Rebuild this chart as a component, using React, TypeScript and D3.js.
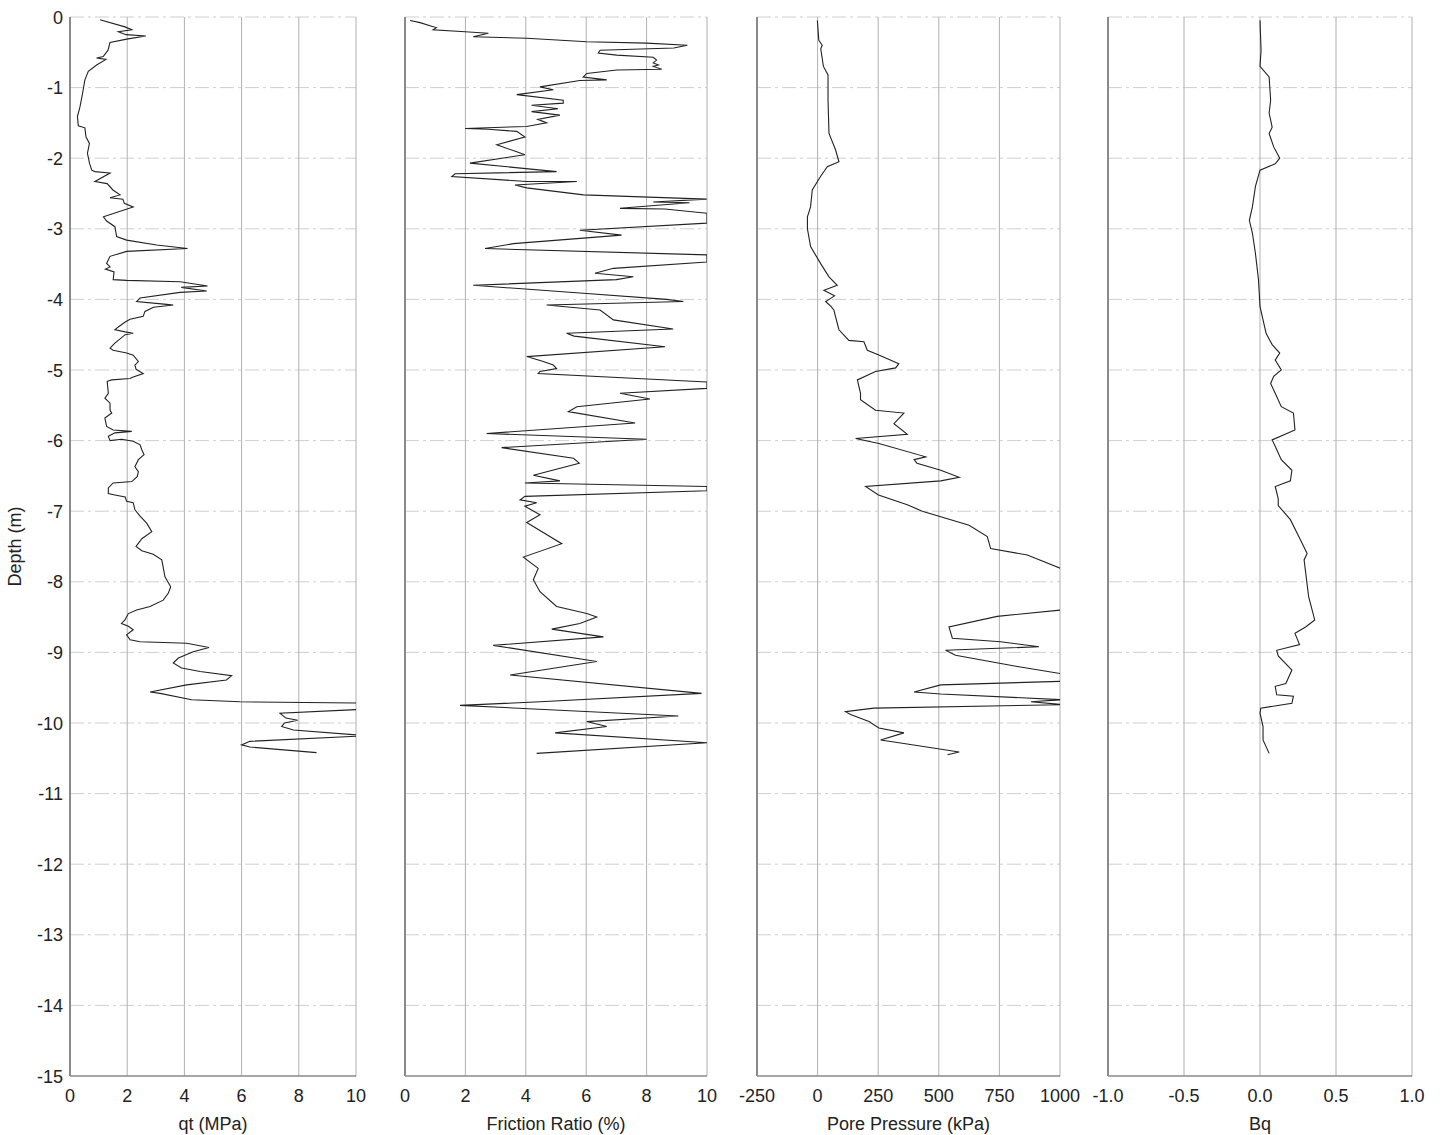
import React from "react";
import * as d3 from "d3";

// [depth (m), qt (MPa)]
const qtData: [number, number][] = [
  [-0.04, 1.05], [-0.14, 1.92], [-0.18, 2.16], [-0.21, 1.69], [-0.25, 1.96], [-0.27, 2.65], [-0.31, 2.03],
  [-0.36, 1.4], [-0.47, 1.33], [-0.56, 1.16], [-0.58, 0.93], [-0.6, 1.26], [-0.68, 0.93], [-0.77, 0.64],
  [-0.89, 0.52], [-1.08, 0.44], [-1.27, 0.35], [-1.41, 0.26], [-1.54, 0.29], [-1.57, 0.52], [-1.7, 0.56],
  [-1.79, 0.68], [-1.93, 0.61], [-2.07, 0.68], [-2.17, 0.76], [-2.19, 0.87], [-2.21, 1.4], [-2.33, 0.87],
  [-2.36, 1.3], [-2.45, 1.5], [-2.52, 1.75], [-2.56, 1.4], [-2.58, 1.85], [-2.64, 1.9], [-2.69, 2.21],
  [-2.83, 1.17], [-2.89, 1.28], [-2.97, 1.57], [-3.11, 1.63], [-3.16, 1.98], [-3.23, 3.03], [-3.28, 4.11],
  [-3.32, 1.98], [-3.39, 1.4], [-3.49, 1.28], [-3.54, 1.4], [-3.57, 1.24], [-3.61, 1.54], [-3.72, 1.51],
  [-3.73, 1.98], [-3.75, 3.85], [-3.81, 4.81], [-3.83, 3.89], [-3.88, 4.78], [-3.9, 3.85], [-3.98, 2.45],
  [-4.03, 2.33], [-4.07, 3.38], [-4.08, 3.61], [-4.11, 2.92], [-4.17, 2.62], [-4.24, 2.56], [-4.28, 2.1],
  [-4.32, 1.93], [-4.39, 1.69], [-4.43, 1.57], [-4.46, 1.93], [-4.48, 2.21], [-4.5, 1.93], [-4.62, 1.57],
  [-4.69, 1.4], [-4.72, 1.51], [-4.76, 1.98], [-4.79, 2.21], [-4.88, 2.39], [-4.93, 2.27], [-4.99, 2.31],
  [-5.05, 2.56], [-5.1, 2.21], [-5.12, 2.1], [-5.14, 1.46], [-5.16, 1.3], [-5.33, 1.34], [-5.4, 1.22],
  [-5.47, 1.4], [-5.57, 1.4], [-5.61, 1.46], [-5.68, 1.22], [-5.8, 1.28], [-5.85, 1.51], [-5.87, 2.16],
  [-5.89, 1.57], [-5.94, 1.34], [-6.0, 1.4], [-5.98, 1.81], [-6.01, 2.21], [-6.06, 2.45], [-6.13, 2.51],
  [-6.2, 2.59], [-6.27, 2.39], [-6.37, 2.27], [-6.44, 2.39], [-6.51, 2.35], [-6.58, 2.16], [-6.6, 1.51],
  [-6.67, 1.34], [-6.75, 1.34], [-6.77, 1.57], [-6.8, 1.93], [-6.86, 1.98], [-6.88, 2.21], [-6.98, 2.27],
  [-7.07, 2.45], [-7.17, 2.68], [-7.29, 2.86], [-7.39, 2.51], [-7.5, 2.31], [-7.56, 2.51], [-7.61, 2.91],
  [-7.69, 3.21], [-7.93, 3.32], [-8.07, 3.52], [-8.16, 3.44], [-8.26, 3.26], [-8.35, 2.8], [-8.4, 2.33],
  [-8.45, 2.04], [-8.54, 1.92], [-8.59, 1.8], [-8.63, 2.04], [-8.68, 2.21], [-8.75, 1.98], [-8.82, 2.1],
  [-8.85, 2.45], [-8.87, 4.08], [-8.93, 4.86], [-8.99, 4.31], [-9.08, 3.79], [-9.15, 3.61], [-9.22, 3.9],
  [-9.27, 4.55], [-9.33, 5.65], [-9.39, 5.47], [-9.46, 4.08], [-9.56, 2.8], [-9.58, 3.15], [-9.67, 4.25],
  [-9.7, 5.94], [-9.72, 10.6], [-9.8, 10.6], [-9.86, 7.34], [-9.93, 7.55], [-9.96, 7.96], [-10.0, 7.5],
  [-10.05, 7.4], [-10.1, 7.81], [-10.18, 10.4], [-10.26, 6.29], [-10.31, 6.0], [-10.34, 6.29], [-10.42, 8.62],
];

// [depth (m), friction ratio (%)]
const frData: [number, number][] = [
  [-0.05, 0.17], [-0.08, 0.5], [-0.13, 0.88], [-0.15, 1.04], [-0.18, 0.93], [-0.21, 1.99], [-0.23, 2.76],
  [-0.28, 2.26], [-0.3, 4.03], [-0.35, 6.02], [-0.37, 8.0], [-0.4, 9.35], [-0.44, 8.9], [-0.47, 6.46],
  [-0.51, 6.4], [-0.54, 7.01], [-0.57, 8.22], [-0.61, 8.33], [-0.65, 8.22], [-0.68, 8.39], [-0.7, 8.22],
  [-0.74, 8.5], [-0.75, 7.01], [-0.8, 6.02], [-0.85, 5.9], [-0.89, 6.68], [-0.9, 5.79], [-0.99, 4.47],
  [-1.03, 4.91], [-1.1, 3.7], [-1.18, 5.24], [-1.22, 5.24], [-1.25, 4.19], [-1.3, 5.07], [-1.34, 4.19],
  [-1.39, 5.13], [-1.45, 4.4], [-1.5, 4.69], [-1.55, 4.03], [-1.58, 1.99], [-1.59, 2.76], [-1.62, 3.7],
  [-1.7, 3.97], [-1.81, 3.04], [-1.91, 3.7], [-1.95, 3.97], [-2.07, 2.15], [-2.19, 5.02], [-2.22, 1.66],
  [-2.26, 1.55], [-2.33, 4.03], [-2.33, 5.69], [-2.38, 3.64], [-2.42, 4.03], [-2.52, 5.91], [-2.58, 9.99],
  [-2.62, 8.22], [-2.63, 9.42], [-2.71, 7.12], [-2.72, 8.6], [-2.78, 10.0], [-2.92, 10.0], [-3.02, 5.79],
  [-3.09, 7.17], [-3.21, 3.59], [-3.28, 2.65], [-3.37, 10.0], [-3.47, 10.0], [-3.56, 6.9], [-3.63, 6.29],
  [-3.68, 7.56], [-3.72, 7.0], [-3.8, 2.26], [-3.91, 5.79], [-4.0, 8.66], [-4.03, 9.22], [-4.08, 4.69],
  [-4.15, 6.46], [-4.29, 6.9], [-4.42, 8.88], [-4.48, 5.35], [-4.52, 5.6], [-4.67, 8.61], [-4.81, 4.03],
  [-4.88, 4.58], [-4.93, 4.91], [-4.98, 5.02], [-5.02, 4.47], [-5.05, 4.41], [-5.17, 10.0], [-5.26, 10.0],
  [-5.33, 7.12], [-5.41, 8.11], [-5.52, 5.69], [-5.59, 5.41], [-5.75, 7.62], [-5.9, 2.7], [-5.98, 8.0],
  [-6.1, 3.2], [-6.25, 5.58], [-6.32, 5.77], [-6.49, 4.25], [-6.57, 5.13], [-6.6, 3.97], [-6.65, 10.0],
  [-6.71, 10.0], [-6.79, 3.97], [-6.84, 3.81], [-6.88, 4.36], [-6.93, 3.97], [-7.05, 4.47], [-7.16, 4.03],
  [-7.46, 5.19], [-7.65, 3.92], [-7.81, 4.41], [-7.97, 4.25], [-8.14, 4.47], [-8.35, 5.02], [-8.45, 6.02],
  [-8.5, 6.35], [-8.59, 5.79], [-8.67, 4.86], [-8.78, 6.57], [-8.9, 2.92], [-9.13, 6.35], [-9.32, 3.48],
  [-9.58, 9.82], [-9.7, 4.47], [-9.75, 1.82], [-9.9, 9.05], [-9.98, 6.02], [-10.05, 6.68], [-10.14, 4.97],
  [-10.28, 10.0], [-10.43, 4.36],
];

// [depth (m), pore pressure (kPa)]
const uData: [number, number][] = [
  [-0.05, -1], [-0.33, 5], [-0.4, 19], [-0.45, 13], [-0.7, 24], [-0.82, 43], [-1.18, 43], [-1.65, 47],
  [-1.88, 74], [-2.05, 88], [-2.12, 40], [-2.26, 12], [-2.45, -22], [-2.69, -29], [-2.83, -42], [-3.0, -42],
  [-3.25, -29], [-3.49, 12], [-3.68, 47], [-3.8, 81], [-3.87, 26], [-3.95, 70], [-4.03, 33], [-4.1, 55],
  [-4.15, 67], [-4.43, 88], [-4.58, 129], [-4.6, 191], [-4.72, 205], [-4.79, 255], [-4.91, 335],
  [-4.97, 322], [-5.02, 239], [-5.14, 164], [-5.33, 177], [-5.42, 177], [-5.57, 239], [-5.61, 356],
  [-5.76, 315], [-5.91, 370], [-5.97, 157], [-6.04, 253], [-6.23, 446], [-6.27, 398], [-6.32, 410],
  [-6.42, 508], [-6.52, 584], [-6.57, 508], [-6.65, 198], [-6.77, 251], [-6.91, 370], [-7.0, 432],
  [-7.2, 625], [-7.36, 700], [-7.53, 714], [-7.62, 865], [-7.81, 1002], [-8.0, 1150], [-8.3, 1150],
  [-8.4, 1002], [-8.49, 741], [-8.64, 542], [-8.8, 556], [-8.85, 755], [-8.92, 913], [-8.97, 528],
  [-9.04, 569], [-9.2, 824], [-9.3, 1002], [-9.35, 1150], [-9.41, 1002], [-9.46, 508], [-9.56, 398],
  [-9.59, 508], [-9.67, 1010], [-9.7, 880], [-9.74, 1010], [-9.79, 232], [-9.84, 115], [-9.88, 136],
  [-9.98, 212], [-10.07, 253], [-10.14, 356], [-10.24, 260], [-10.29, 356], [-10.41, 584], [-10.45, 536],
];

// [depth (m), Bq]
const bqData: [number, number][] = [
  [-0.05, 0.0], [-0.47, 0.007], [-0.7, 0.0], [-0.85, 0.06], [-1.18, 0.07], [-1.36, 0.06], [-1.56, 0.08],
  [-1.65, 0.06], [-1.84, 0.09], [-2.0, 0.13], [-2.08, 0.1], [-2.17, 0.0], [-2.4, -0.03], [-2.69, -0.05],
  [-2.88, -0.07], [-3.06, -0.05], [-3.35, -0.03], [-3.72, -0.01], [-4.1, 0.0], [-4.48, 0.04], [-4.64, 0.08],
  [-4.76, 0.13], [-4.86, 0.1], [-5.0, 0.14], [-5.09, 0.09], [-5.19, 0.07], [-5.33, 0.1], [-5.52, 0.14],
  [-5.61, 0.22], [-5.85, 0.23], [-5.99, 0.08], [-6.08, 0.1], [-6.27, 0.14], [-6.42, 0.21], [-6.57, 0.2],
  [-6.65, 0.1], [-6.82, 0.12], [-6.92, 0.12], [-7.12, 0.2], [-7.38, 0.26], [-7.6, 0.31], [-7.69, 0.29],
  [-8.21, 0.32], [-8.54, 0.36], [-8.64, 0.3], [-8.73, 0.23], [-8.89, 0.26], [-8.97, 0.11], [-9.05, 0.12],
  [-9.25, 0.21], [-9.44, 0.17], [-9.48, 0.1], [-9.6, 0.11], [-9.62, 0.22], [-9.72, 0.21], [-9.79, 0.005],
  [-9.86, 0.0], [-10.05, 0.02], [-10.24, 0.02], [-10.43, 0.06],
];

const depthTicks = d3.range(0, -16, -1);
const qtTicks = [0, 2, 4, 6, 8, 10];
const frTicks = [0, 2, 4, 6, 8, 10];
const uTicks = [-250, 0, 250, 500, 750, 1000];
const bqTicks = [-1, -0.5, 0, 0.5, 1];

const panels = [
  { key: "qt", title: "qt (MPa)", data: qtData, domain: [0, 10], ticks: qtTicks, fmt: (v: number) => String(v), range: [70, 356] },
  { key: "fr", title: "Friction Ratio (%)", data: frData, domain: [0, 10], ticks: frTicks, fmt: (v: number) => String(v), range: [405, 707] },
  { key: "u", title: "Pore Pressure (kPa)", data: uData, domain: [-250, 1000], ticks: uTicks, fmt: (v: number) => String(v), range: [757, 1060] },
  { key: "bq", title: "Bq", data: bqData, domain: [-1, 1], ticks: bqTicks, fmt: (v: number) => v.toFixed(1), range: [1108, 1412] },
];

const FONT = "'Liberation Sans', Arial, sans-serif";
const FS = 18;

export default function App() {
  const W = 1442, H = 1135;
  const y = d3.scaleLinear().domain([0, -15]).range([17, 1076]);
  return (
    <svg width={W} height={H} style={{ position: "absolute", left: 0, top: 0, background: "#fff" }} fontFamily={FONT}>
      <rect width={W} height={H} fill="#fff" />
      {panels.map((p) => {
        const x = d3.scaleLinear().domain(p.domain).range(p.range);
        const line = d3.line<[number, number]>().x((d) => x(d[1])).y((d) => y(d[0]));
        const [x0, x1] = p.range;
        return (
          <g key={p.key}>
            <defs>
              <clipPath id={`clip-${p.key}`}>
                <rect x={x0} y={y(0) - 2} width={x1 - x0} height={y(-15) - y(0) + 4} />
              </clipPath>
            </defs>
            {depthTicks.filter((t) => t !== -15).map((t) => (
              <line key={`h${t}`} x1={x0} x2={x1} y1={y(t)} y2={y(t)} stroke="#cfcfcf" strokeWidth={1} strokeDasharray="14 4 3 4" />
            ))}
            {p.ticks.map((t) => (
              <line key={`v${t}`} x1={x(t)} x2={x(t)} y1={y(0)} y2={y(-15)} stroke="#b0b0b0" strokeWidth={1} />
            ))}
            <line x1={x0} x2={x0} y1={y(0)} y2={y(-15)} stroke="#8a8a8a" strokeWidth={2} />
            <line x1={x0} x2={x1} y1={y(-15)} y2={y(-15)} stroke="#8a8a8a" strokeWidth={1.5} />
            <path d={line(p.data) || ""} fill="none" stroke="#222" strokeWidth={1.1} clipPath={`url(#clip-${p.key})`} />
            {p.ticks.map((t) => (
              <text key={`tl${t}`} x={x(t)} y={1102} fontSize={FS} textAnchor="middle" fill="#222">{p.fmt(t)}</text>
            ))}
            <text x={(x0 + x1) / 2} y={1130} fontSize={FS} textAnchor="middle" fill="#222">{p.title}</text>
          </g>
        );
      })}
      {depthTicks.map((t) => (
        <text key={`yl${t}`} x={63} y={y(t) + 6.5} fontSize={FS} textAnchor="end" fill="#222">{t}</text>
      ))}
      <text transform={`translate(21,${(y(0) + y(-15)) / 2}) rotate(-90)`} fontSize={FS} textAnchor="middle" fill="#222">Depth (m)</text>
    </svg>
  );
}
